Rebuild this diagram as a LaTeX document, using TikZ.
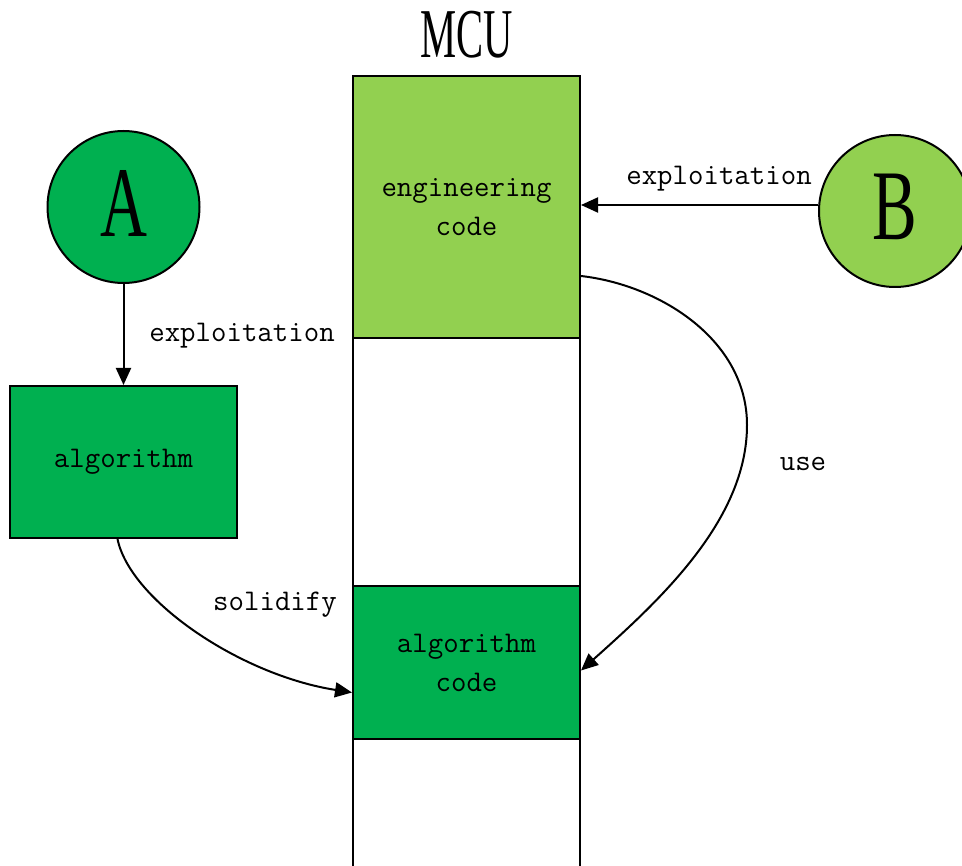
\documentclass[tikz,border=0pt]{standalone}
\usepackage{fontspec}
\setmainfont{Liberation Serif}
\usetikzlibrary{arrows.meta,calc}
\definecolor{lgreen}{HTML}{92D050}
\definecolor{dgreen}{HTML}{00B050}
\begin{document}
\begin{tikzpicture}[x=1pt,y=-1pt,
  box/.style={draw=black,line width=2pt,inner sep=0pt,minimum width=227pt},
  circ/.style={circle,draw=black,line width=2pt,minimum size=152pt,inner sep=0pt},
  lbl/.style={font=\fontsize{30}{39}\selectfont\ttfamily,align=center,inner sep=0pt},
  conn/.style={line width=2pt,-{Triangle[length=17pt,width=15pt]}}]
\clip (0,0) rectangle (962,866);
\fill[white] (0,0) rectangle (962,866);
% MCU column
\node[box,fill=lgreen,minimum height=262pt,lbl] (eng) at (466.5,207) {engineering\\code};
\node[box,fill=white,minimum height=248pt] (mid) at (466.5,462) {};
\node[box,fill=dgreen,minimum height=153pt,lbl] (algc) at (466.5,662.5) {algorithm\\code};
\node[box,fill=white,minimum height=160pt] (bot) at (466.5,819) {};
\node[anchor=base,inner sep=0pt] (mcu) at (466.5,58) {\scalebox{0.58}[1]{\fontsize{70}{70}\selectfont MCU}};
% circles
\node[circ,fill=dgreen] (A) at (123.5,207) {};
\node[anchor=base,inner sep=0pt] (Alab) at (123.5,237) {\scalebox{0.65}[1]{\fontsize{100}{100}\selectfont A}};
\node[circ,fill=lgreen] (B) at (895,211) {};
\node[anchor=base,inner sep=0pt] (Blab) at (895,240) {\scalebox{0.67}[1]{\fontsize{100}{100}\selectfont B}};
% algorithm box
\node[box,fill=dgreen,minimum width=227pt,minimum height=152pt,lbl] (alg) at (123.5,462) {algorithm};
\coordinate (turn) at (747,425);
% connectors
\draw[conn] (A.south) -- (alg.north);
\draw[conn] ([yshift=6pt]B.west) -- (eng.east |- 0,205);
\draw[conn] ($(eng.south east)+(0,-63)$) .. controls (660,285) and (747,340) .. (turn)
  .. controls (747,520) and (660,600) .. ([yshift=-8pt]algc.east);
\draw[conn] ([xshift=-6pt]alg.south) .. controls (130,600) and (240,675) .. ([yshift=-30pt]algc.west);
% labels
\node[lbl] (l1) at (242,336) {exploitation};
\node[lbl] (l2) at (719,179) {exploitation};
\node[lbl] (l3) at (803,464) {use};
\node[lbl] (l4) at (275,605) {solidify};
\end{tikzpicture}
\end{document}
